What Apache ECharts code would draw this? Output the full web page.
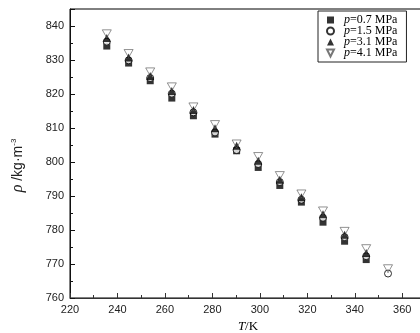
<!DOCTYPE html>
<html><head><meta charset="utf-8">
<script src="https://cdn.jsdelivr.net/npm/echarts@6/dist/echarts.min.js"></script>
<style>html,body{margin:0;padding:0;background:#fff}#c{width:420px;height:333px}</style>
</head><body><div id="c"></div>
<script>
const T = [235.5, 244.7, 253.8, 262.9, 272.0, 281.1, 290.2, 299.3, 308.4, 317.5, 326.6, 335.7, 344.8, 354.0];
const p07 = [834.1, 829.1, 823.9, 818.8, 813.6, 808.2, 803.3, 798.4, 793.1, 788.2, 782.3, 776.7, 771.3, null];
const p15 = [835.4, 829.9, 824.7, 820.1, 814.6, 808.7, 803.5, 799.4, 794.1, 788.9, 783.6, 777.9, 772.3, 767.2];
const p31 = [836.5, 830.7, 825.3, 820.9, 815.3, 809.9, 804.8, 800.4, 794.8, 789.6, 784.6, 778.6, 773.2, null];
const p41 = [837.7, 831.9, 826.5, 822.1, 816.2, 811.0, 805.3, 801.6, 796.0, 790.6, 785.6, 779.6, 774.5, 768.6];
const names = ['p=0.7 MPa', 'p=1.5 MPa', 'p=3.1 MPa', 'p=4.1 MPa'];
const xTicks = [220, 240, 260, 280, 300, 320, 340, 360];
const yTicks = [760, 770, 780, 790, 800, 810, 820, 830, 840];

const pair = arr => T.map((t, i) => [t, arr[i]]).filter(d => d[1] != null);
const inv = 'path://M0,0 L10,0 L5,10 Z';
const chart = echarts.init(document.getElementById('c'));
chart.setOption({
  animation: false,
  grid: {left: 70, top: 9, bottom: 35, right: -6, outerBoundsMode: 'none', containLabel: false,
    show: true, borderColor: '#000', borderWidth: 1, backgroundColor: 'transparent'},
  legend: {
    orient: 'vertical', left: 318, top: 11,
    borderColor: '#222', borderWidth: 1, padding: [3, 9, 3, 8], itemGap: -1,
    itemWidth: 7, itemHeight: 7,
    data: names,
    formatter: n => '{i|p}' + n.slice(1),
    textStyle: {fontFamily: 'Liberation Serif', fontSize: 12, color: '#000', lineHeight: 11,
      padding: [0, 0, 0, 5],
      rich: {i: {fontFamily: 'Liberation Serif', fontStyle: 'italic', fontSize: 12, color: '#000', lineHeight: 11}}}
  },
  xAxis: {
    type: 'value', min: 220, max: 370, interval: 20,
    name: '{i|T}/K', nameLocation: 'middle', nameGap: 22,
    nameTextStyle: {fontFamily: 'Liberation Serif', fontSize: 13, color: '#000',
      rich: {i: {fontFamily: 'Liberation Serif', fontStyle: 'italic', fontSize: 13, color: '#000'}}},
    axisLine: {lineStyle: {color: '#333', width: 1}},
    axisTick: {inside: true, length: 5, lineStyle: {color: '#333'}},
    minorTick: {show: true, splitNumber: 2, length: 3, lineStyle: {color: '#333'}},
    splitLine: {show: false},
    axisLabel: {showMaxLabel: false, color: '#222', fontFamily: 'Liberation Sans', fontSize: 11, margin: 6,
      formatter: v => xTicks.includes(v) ? String(v) : ''}
  },
  yAxis: {
    type: 'value', min: 760, max: 845, interval: 10,
    name: '{i|ρ} /kg·m{s|-3}', nameLocation: 'middle', nameGap: 44, nameRotate: 90,
    nameTextStyle: {fontFamily: 'Liberation Sans', fontSize: 14, color: '#222', padding: [0, 24, 0, 0],
      rich: {i: {fontFamily: 'Liberation Serif', fontStyle: 'italic', fontSize: 16, color: '#222'},
             s: {fontFamily: 'Liberation Sans', fontSize: 8, color: '#222', verticalAlign: 'top', padding: [0, 0, 8, 0]}}},
    axisLine: {show: true, lineStyle: {color: '#111', width: 1}},
    axisTick: {inside: true, length: 5, lineStyle: {color: '#111'}},
    minorTick: {show: true, splitNumber: 2, length: 3, lineStyle: {color: '#111'}},
    splitLine: {show: false},
    axisLabel: {showMaxLabel: false, color: '#222', fontFamily: 'Liberation Sans', fontSize: 11, margin: 6,
      formatter: v => yTicks.includes(v) ? String(v) : ''}
  },
  series: [
    {name: names[0], type: 'scatter', data: pair(p07), symbol: 'rect', symbolSize: 7,
      itemStyle: {color: '#000'}, z: 2},
    {name: names[1], type: 'scatter', data: pair(p15), symbol: 'circle', symbolSize: 7,
      itemStyle: {color: '#fff', borderColor: '#000', borderWidth: 1}, z: 3},
    {name: names[2], type: 'scatter', data: pair(p31), symbol: 'triangle', symbolSize: 8,
      itemStyle: {color: '#000'}, z: 4},
    {name: names[3], type: 'scatter', data: pair(p41), symbol: inv, symbolSize: [9, 8],
      itemStyle: {color: 'rgba(255,255,255,0)', borderColor: '#555', borderWidth: 0.8}, z: 5}
  ]
});
</script></body></html>
